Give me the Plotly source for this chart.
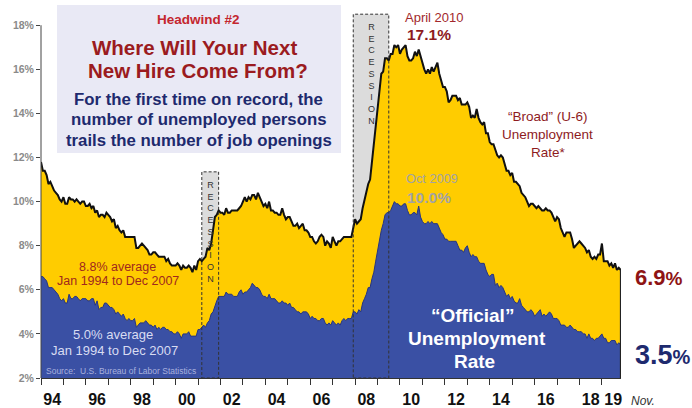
import pandas as pd
import plotly.graph_objects as go

# Monthly unemployment rates, Jan 1994 - Nov 2019 (percent, seasonally adjusted)
u3_official = [
    6.6, 6.6, 6.5, 6.4, 6.1, 6.1, 6.1, 6.0, 5.9, 5.8, 5.6, 5.5,   # 1994
    5.6, 5.4, 5.4, 5.8, 5.6, 5.6, 5.7, 5.7, 5.6, 5.5, 5.6, 5.6,   # 1995
    5.6, 5.5, 5.5, 5.6, 5.6, 5.3, 5.5, 5.1, 5.2, 5.2, 5.4, 5.4,   # 1996
    5.3, 5.2, 5.2, 5.1, 4.9, 5.0, 4.9, 4.8, 4.9, 4.7, 4.6, 4.7,   # 1997
    4.6, 4.6, 4.7, 4.3, 4.4, 4.5, 4.5, 4.5, 4.6, 4.5, 4.4, 4.4,   # 1998
    4.3, 4.4, 4.2, 4.3, 4.2, 4.3, 4.3, 4.2, 4.2, 4.1, 4.1, 4.0,   # 1999
    4.0, 4.1, 4.0, 3.8, 4.0, 4.0, 4.0, 4.1, 3.9, 3.9, 3.9, 3.9,   # 2000
    4.2, 4.2, 4.3, 4.4, 4.3, 4.5, 4.6, 4.9, 5.0, 5.3, 5.5, 5.7,   # 2001
    5.7, 5.7, 5.7, 5.9, 5.8, 5.8, 5.8, 5.7, 5.7, 5.7, 5.9, 6.0,   # 2002
    5.8, 5.9, 5.9, 6.0, 6.1, 6.3, 6.2, 6.1, 6.1, 6.0, 5.8, 5.7,   # 2003
    5.7, 5.6, 5.8, 5.6, 5.6, 5.6, 5.5, 5.4, 5.4, 5.5, 5.4, 5.4,   # 2004
    5.3, 5.4, 5.2, 5.2, 5.1, 5.0, 5.0, 4.9, 5.0, 5.0, 5.0, 4.9,   # 2005
    4.7, 4.8, 4.7, 4.7, 4.6, 4.6, 4.7, 4.7, 4.5, 4.4, 4.5, 4.4,   # 2006
    4.6, 4.5, 4.4, 4.5, 4.4, 4.6, 4.7, 4.6, 4.7, 4.7, 4.7, 5.0,   # 2007
    5.0, 4.9, 5.1, 5.0, 5.4, 5.6, 5.8, 6.1, 6.1, 6.5, 6.8, 7.3,   # 2008
    7.8, 8.3, 8.7, 9.0, 9.4, 9.5, 9.5, 9.6, 9.8, 10.0, 9.9, 9.9,  # 2009
    9.8, 9.8, 9.9, 9.9, 9.6, 9.4, 9.4, 9.5, 9.5, 9.4, 9.8, 9.3,   # 2010
    9.1, 9.0, 9.0, 9.1, 9.0, 9.1, 9.0, 9.0, 9.0, 8.8, 8.6, 8.5,   # 2011
    8.3, 8.3, 8.2, 8.2, 8.2, 8.2, 8.2, 8.0, 7.8, 7.8, 7.7, 7.9,   # 2012
    8.0, 7.7, 7.5, 7.6, 7.5, 7.5, 7.3, 7.2, 7.2, 7.2, 6.9, 6.7,   # 2013
    6.6, 6.7, 6.7, 6.2, 6.3, 6.1, 6.2, 6.1, 5.9, 5.7, 5.8, 5.6,   # 2014
    5.7, 5.5, 5.4, 5.4, 5.6, 5.3, 5.2, 5.1, 5.0, 5.0, 5.1, 5.0,   # 2015
    4.8, 4.9, 5.0, 5.1, 4.8, 4.9, 4.8, 4.9, 5.0, 4.9, 4.7, 4.7,   # 2016
    4.7, 4.6, 4.4, 4.4, 4.4, 4.3, 4.3, 4.4, 4.3, 4.2, 4.2, 4.1,   # 2017
    4.1, 4.1, 4.0, 4.0, 3.8, 4.0, 3.8, 3.8, 3.7, 3.8, 3.8, 3.9,   # 2018
    4.0, 3.8, 3.8, 3.6, 3.6, 3.7, 3.7, 3.7, 3.5, 3.6, 3.5,        # 2019
]

u6_broad = [
    11.8, 11.4, 11.4, 11.2, 10.8, 10.9, 10.7, 10.5, 10.4, 10.3, 10.1, 10.0,  # 1994
    10.2, 9.9, 9.9, 10.2, 10.1, 10.1, 10.0, 10.1, 10.0, 9.9, 10.0, 10.0,     # 1995
    9.8, 9.8, 9.9, 9.7, 9.8, 9.5, 9.6, 9.3, 9.4, 9.4, 9.3, 9.5,              # 1996
    9.4, 9.3, 9.1, 9.2, 8.8, 8.9, 8.7, 8.6, 8.7, 8.4, 8.4, 8.4,              # 1997
    8.4, 8.4, 8.4, 7.9, 7.9, 8.0, 8.1, 8.0, 7.9, 7.8, 7.6, 7.6,              # 1998
    7.7, 7.7, 7.6, 7.5, 7.5, 7.5, 7.5, 7.3, 7.4, 7.2, 7.1, 7.1,              # 1999
    7.1, 7.2, 7.1, 6.9, 7.1, 7.0, 7.0, 7.1, 7.0, 6.8, 7.1, 6.9,              # 2000
    7.3, 7.4, 7.3, 7.4, 7.5, 7.9, 7.8, 8.1, 8.7, 9.3, 9.4, 9.6,              # 2001
    9.5, 9.5, 9.4, 9.7, 9.5, 9.5, 9.6, 9.6, 9.6, 9.6, 9.7, 9.8,              # 2002
    10.0, 10.2, 10.0, 10.2, 10.1, 10.3, 10.3, 10.1, 10.4, 10.2, 10.0, 9.8,   # 2003
    9.9, 9.7, 10.0, 9.6, 9.6, 9.5, 9.5, 9.4, 9.4, 9.7, 9.4, 9.2,             # 2004
    9.3, 9.3, 9.1, 8.9, 8.9, 9.0, 8.8, 8.9, 9.0, 8.7, 8.7, 8.6,              # 2005
    8.4, 8.4, 8.2, 8.1, 8.2, 8.4, 8.5, 8.4, 8.0, 8.2, 8.1, 7.9,              # 2006
    8.4, 8.2, 8.0, 8.2, 8.2, 8.3, 8.4, 8.4, 8.4, 8.4, 8.4, 8.8,              # 2007
    9.2, 9.0, 9.1, 9.2, 9.7, 10.1, 10.5, 10.8, 11.0, 11.8, 12.6, 13.6,       # 2008
    14.2, 15.2, 15.8, 15.9, 16.5, 16.5, 16.4, 16.7, 16.7, 17.1, 17.0, 17.1,  # 2009
    16.7, 16.9, 17.0, 17.1, 16.6, 16.4, 16.4, 16.5, 16.8, 16.6, 16.9, 16.6,  # 2010
    16.2, 16.0, 15.8, 16.0, 15.8, 16.1, 15.9, 16.1, 16.3, 15.8, 15.5, 15.2,  # 2011
    15.2, 15.0, 14.5, 14.6, 14.8, 14.8, 14.8, 14.6, 14.7, 14.4, 14.4, 14.4,  # 2012
    14.5, 14.3, 13.8, 13.9, 13.8, 14.2, 13.8, 13.6, 13.5, 13.6, 13.1, 13.1,  # 2013
    12.7, 12.6, 12.6, 12.3, 12.1, 12.0, 12.1, 12.0, 11.7, 11.4, 11.4, 11.2,  # 2014
    11.3, 10.9, 10.9, 10.8, 10.7, 10.4, 10.3, 10.2, 10.0, 9.8, 9.9, 9.9,     # 2015
    9.8, 9.7, 9.8, 9.7, 9.6, 9.6, 9.7, 9.6, 9.6, 9.5, 9.3, 9.1,              # 2016
    9.3, 9.2, 8.8, 8.6, 8.4, 8.6, 8.6, 8.6, 8.3, 7.9, 8.0, 8.1,              # 2017
    8.2, 8.1, 8.0, 7.9, 7.7, 7.8, 7.5, 7.4, 7.5, 7.4, 7.6, 7.6,              # 2018
    8.1, 7.3, 7.3, 7.3, 7.1, 7.2, 7.0, 7.2, 6.9, 7.0, 6.9,                   # 2019
]

# NBER recession periods (first month, last month)
recession_periods = [("2001-03", "2001-11"), ("2007-12", "2009-06")]
recession_box_tops = [11.35, 18.5]

# Axis labels
y_tick_values = [2, 4, 6, 8, 10, 12, 14, 16, 18]
y_tick_labels = [f"{v}%" for v in y_tick_values]
x_label_years = [1994, 1996, 1998, 2000, 2002, 2004, 2006, 2008, 2010,
                 2012, 2014, 2016, 2018, 2019]
x_tick_labels = [f"{y % 100:02d}" for y in x_label_years]

months = pd.date_range("1994-01-01", periods=len(u6_broad), freq="MS")


def decimal_year(ts):
    return ts.year + (ts.month - 1) / 12.0


x_vals = [decimal_year(m) for m in months]

FONT = "Liberation Sans, Arial, sans-serif"
YELLOW = "#FFCC00"
BLUE = "#3A50A4"
MAROON = "#9B1B20"
NAVY = "#1E2A6E"

# plot-area pixel geometry (used to place free text in paper coordinates)
L, R, T, B = 41, 621, 12, 378
Y_MIN, Y_MAX = 2.0, 18.6
X_MIN, X_MAX = 1994.0, 2019.85


def px(x):
    return (x - L) / (R - L)


def py(y):
    return (B - y) / (B - T)


fig = go.Figure()

fig.add_trace(go.Scatter(
    x=x_vals, y=u6_broad, mode="lines", fill="tozeroy",
    fillcolor=YELLOW, line=dict(color="#111111", width=2),
    hoverinfo="skip", name="U-6",
))
fig.add_trace(go.Scatter(
    x=x_vals, y=u3_official, mode="lines", fill="tozeroy",
    fillcolor=BLUE, line=dict(color="#27357F", width=1),
    hoverinfo="skip", name="U-3",
))

shapes = []
annotations = []

# recession shading (behind the areas) and dashed outlines (on top)
for (start, end), top in zip(recession_periods, recession_box_tops):
    s = pd.Timestamp(start)
    e = pd.Timestamp(end) + pd.offsets.MonthBegin(1)
    x0, x1 = decimal_year(s), decimal_year(e)
    shapes.append(dict(type="rect", xref="x", yref="y", x0=x0, x1=x1,
                       y0=Y_MIN, y1=top, fillcolor="#DCDCDC",
                       line=dict(width=0), layer="below"))
    shapes.append(dict(type="rect", xref="x", yref="y", x0=x0, x1=x1,
                       y0=Y_MIN, y1=top, fillcolor="rgba(0,0,0,0)",
                       line=dict(color="#333333", width=1, dash="3px,2px"),
                       layer="above"))
    annotations.append(dict(
        x=(x0 + x1) / 2, y=top, xref="x", yref="y", yanchor="top",
        yshift=-6, showarrow=False, align="center",
        text="<br>".join("RECESSION"),
        font=dict(family=FONT, size=9, color="#333333"),
    ))

# left axis line running from 2% to 18%
shapes.append(dict(type="line", xref="paper", yref="y", x0=0, x1=0,
                   y0=Y_MIN, y1=18, line=dict(color="#444444", width=1)))
# right edge of the filled areas
shapes.append(dict(type="line", xref="x", yref="y", x0=x_vals[-1], x1=x_vals[-1],
                   y0=Y_MIN, y1=u6_broad[-1], line=dict(color="#222222", width=1.5)))

# headline panel
shapes.append(dict(type="rect", xref="paper", yref="paper",
                   x0=px(57), x1=px(341), y0=py(153), y1=py(5),
                   fillcolor="#E9E9F5", line=dict(width=0), layer="above"))


def label(text, x, y, size, color, bold=False, italic=False, xanchor="center"):
    annotations.append(dict(
        x=px(x), y=py(y), xref="paper", yref="paper", text=text,
        showarrow=False, xanchor=xanchor, yanchor="middle",
        font=dict(family=FONT, size=size, color=color,
                  weight="bold" if bold else "normal",
                  style="italic" if italic else "normal"),
    ))


label("Headwind #2", 198.5, 19, 13.5, "#C4262E", bold=True)
label("Where Will Your Next", 194, 47, 20.5, MAROON, bold=True)
label("New Hire Come From?", 198, 71, 20.5, MAROON, bold=True)
label("For the first time on record, the", 198, 99, 16.8, NAVY, bold=True)
label("number of unemployed persons", 198, 119, 16.8, NAVY, bold=True)
label("trails the number of job openings", 198.5, 140, 16.8, NAVY, bold=True)

label("8.8% average", 117.5, 266.5, 12.5, "#A0281E")
label("Jan 1994 to Dec 2007", 117.5, 280.5, 12.5, "#A0281E")
label("5.0% average", 113, 334, 13, "#D8DCF2")
label("Jan 1994 to Dec 2007", 114, 350, 13, "#D8DCF2")
label("Source:  U.S. Bureau of Labor Statistics", 44, 371, 8.5, "#A9B1DE",
      xanchor="left")

label("\u201cOfficial\u201d", 472, 315, 19, "#FFFFFF", bold=True)
label("Unemployment", 477, 338, 19, "#FFFFFF", bold=True)
label("Rate", 474, 361, 19, "#FFFFFF", bold=True)

label("\u201cBroad\u201d (U-6)", 547.5, 116, 13.5, "#8E1B1E")
label("Unemployment", 547, 134, 13.5, "#8E1B1E")
label("Rate*", 548, 152, 13.5, "#8E1B1E")

label("April 2010", 434, 17, 13, "#A2282C")
label("17.1%", 428.5, 35, 15.5, "#8E1B1E", bold=True)
label("Oct 2009", 432, 179, 12.8, "#A3A3A3")
label("10.0%", 429, 197, 15.5, "#A3A3A3", bold=True)

label(f"{u6_broad[-1]:.1f}<span style='font-size:19px'>%</span>", 633, 277, 22,
      "#8E1414", bold=True, xanchor="left")
label(f"{u3_official[-1]:.1f}<span style='font-size:20px'>%</span>", 633, 355, 27,
      NAVY, bold=True, xanchor="left")

label("Nov.", 643, 401, 12, "#333333", italic=True)

fig.update_layout(
    width=692, height=408,
    margin=dict(l=L, r=692 - R, t=T, b=408 - B),
    paper_bgcolor="white", plot_bgcolor="white",
    showlegend=False,
    shapes=shapes, annotations=annotations,
    xaxis=dict(
        range=[X_MIN, X_MAX], showgrid=False, zeroline=False, automargin=False,
        showline=True, linecolor="#333333", linewidth=1,
        tickmode="array", tickvals=[y + 0.5 for y in x_label_years],
        ticktext=x_tick_labels, ticks="",
        tickfont=dict(family=FONT, size=16, color="#111111", weight="bold"),
        ticklabelstandoff=7,
        minor=dict(tickmode="array", tickvals=list(range(1994, 2020)),
                   ticks="outside", ticklen=6, tickcolor="#333333", tickwidth=1),
    ),
    yaxis=dict(
        range=[Y_MIN, Y_MAX], showgrid=False, zeroline=False, showline=False,
        automargin=False,
        tickmode="array", tickvals=y_tick_values, ticktext=y_tick_labels,
        ticks="outside", ticklen=4, tickcolor="#444444", tickwidth=1,
        tickfont=dict(family=FONT, size=10.5, color="#8A8A8A", weight="bold"),
    ),
)

fig.write_html("out.html")
